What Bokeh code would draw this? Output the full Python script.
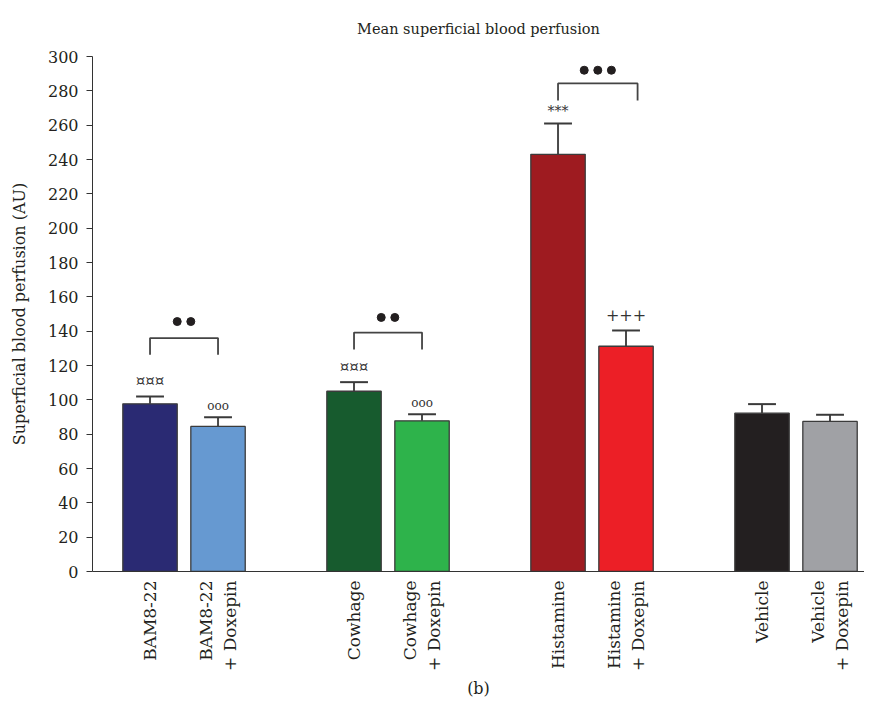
import math
from bokeh.plotting import figure
from bokeh.models import ColumnDataSource, FixedTicker
from bokeh.embed import file_html
from bokeh.resources import INLINE
from bokeh.core.properties import value

# ---- data ----
labels = ["BAM8-22", "BAM8-22\n+ Doxepin", "Cowhage", "Cowhage\n+ Doxepin",
          "Histamine", "Histamine\n+ Doxepin", "Vehicle", "Vehicle\n+ Doxepin"]
positions = [0, 1, 3, 4, 6, 7, 9, 10]
means = [97.7, 84.5, 105.0, 87.8, 243.0, 131.2, 92.2, 87.4]
sem = [4.2, 5.4, 5.3, 3.8, 18.0, 9.2, 5.3, 3.9]
colors = ["#2a2a73", "#6699d1", "#175b2e", "#2eb34b",
          "#9e1b20", "#ec1f26", "#231f20", "#a0a1a5"]

# significance symbols above bars
mark_bar = [0, 1, 2, 3, 4, 5]
mark_text = ["¤¤¤", "ooo", "¤¤¤", "ooo", "***", "+++"]
mark_y = [110.8, 96.3, 119.4, 98.0, 268.4, 149.3]
mark_size = ["15px", "12px", "15px", "12px", "14px", "16px"]

# brackets between paired bars
br_x0 = [0, 3, 6]
br_x1 = [1, 4, 7.17]
br_top = [136.0, 139.2, 284.3]
br_leg = [126.2, 129.3, 274.4]
br_ndots = [2, 2, 3]
br_dot_y = [145.6, 148.0, 292.0]

yticks = list(range(0, 301, 20))
title_text = "Mean superficial blood perfusion"

SERIF = "DejaVu Serif"
TXT = "#231f20"
BAR_W = 0.8
CAP = 0.41
DOT_STEP = 0.2
X0, X1 = -0.846, 10.507

p = figure(width=864, height=700, x_range=(X0, X1), y_range=(0, 300),
           output_backend="svg", toolbar_location=None,
           min_border_left=92, min_border_right=0, min_border_top=56,
           min_border_bottom=129)
p.outline_line_color = None
p.xgrid.visible = False
p.ygrid.visible = False

p.title.text = title_text
p.title.align = "center"
p.title.vertical_align = "top"
p.title.text_font = SERIF
p.title.text_font_size = "14.5px"
p.title.text_font_style = "normal"
p.title.text_color = TXT
p.title.standoff = 35

src = ColumnDataSource(dict(x=positions, top=means, color=colors,
                            err=[m + s for m, s in zip(means, sem)],
                            cl=[x - CAP / 2 for x in positions],
                            cr=[x + CAP / 2 for x in positions]))

p.segment(x0="x", y0="top", x1="x", y1="err", source=src,
          line_color="#4a4a4a", line_width=2)
p.segment(x0="cl", y0="err", x1="cr", y1="err", source=src,
          line_color="#3a3a3a", line_width=2)
p.vbar(x="x", top="top", bottom=0, width=BAR_W, source=src,
       fill_color="color", line_color="#3b3b3b", line_width=1.3)

# symbols
msrc = ColumnDataSource(dict(x=[positions[i] for i in mark_bar], y=mark_y,
                             t=mark_text, s=mark_size))
p.text(x="x", y="y", text="t", text_font_size="s", source=msrc,
       text_align="center", text_baseline="middle",
       text_font=value(SERIF), text_color="#333333")

# brackets
bx, by = [], []
for x0, x1, t, l in zip(br_x0, br_x1, br_top, br_leg):
    bx.append([x0, x0, x1, x1])
    by.append([l, t, t, l])
p.multi_line(xs=bx, ys=by, line_color="#444444", line_width=1.8)

dx, dy = [], []
for x0, x1, n, y in zip(br_x0, br_x1, br_ndots, br_dot_y):
    c = (x0 + x1) / 2
    for k in range(n):
        dx.append(c + (k - (n - 1) / 2) * DOT_STEP)
        dy.append(y)
p.scatter(x=dx, y=dy, size=8, color="#231f20")

# axes
ya = p.yaxis[0]
ya.ticker = FixedTicker(ticks=yticks)
ya.minor_tick_line_color = None
ya.major_tick_in = 0
ya.major_tick_out = 6
ya.major_label_standoff = 8
ya.major_label_text_font = SERIF
ya.major_label_text_font_size = "16px"
ya.major_label_text_color = TXT
ya.axis_line_color = "#333333"
ya.major_tick_line_color = "#333333"
ya.axis_label = "Superficial blood perfusion (AU)"
ya.axis_label_text_font = SERIF
ya.axis_label_text_font_size = "16px"
ya.axis_label_text_font_style = "normal"
ya.axis_label_text_color = TXT
ya.axis_label_standoff = 16

xa = p.xaxis[0]
xa.ticker = FixedTicker(ticks=positions)
xa.major_label_overrides = {pos: lab for pos, lab in zip(positions, labels)}
xa.major_label_orientation = math.pi / 2
xa.minor_tick_line_color = None
xa.major_tick_in = 0
xa.major_tick_out = 0
xa.major_label_standoff = 9
xa.major_label_text_font = SERIF
xa.major_label_text_font_size = "17px"
xa.major_label_text_color = TXT
xa.axis_line_color = "#333333"
xa.axis_label = "(b)"
xa.axis_label_text_font = SERIF
xa.axis_label_text_font_size = "16px"
xa.axis_label_text_font_style = "normal"
xa.axis_label_text_color = TXT
xa.axis_label_standoff = 5

open("out.html", "w").write(file_html(p, INLINE))
